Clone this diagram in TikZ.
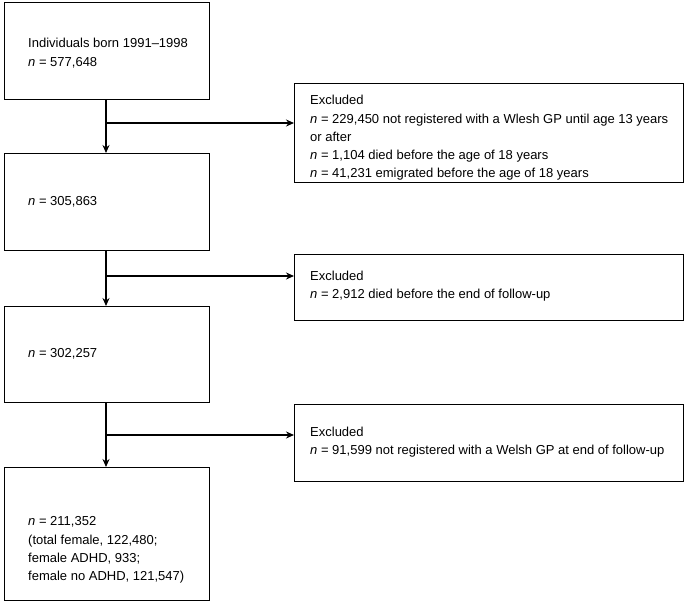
\documentclass[tikz,border=0pt]{standalone}
\usepackage{fontspec}
\setmainfont{Liberation Sans}
\usetikzlibrary{arrows.meta}
\begin{document}
\begin{tikzpicture}[x=1pt,y=-1pt,
  box/.style={draw,line width=1.3pt,anchor=north west,inner sep=0pt},
  txt/.style={anchor=west,inner sep=0pt,align=left,font=\fontsize{13}{18.3}\selectfont},
  arr/.style={line width=1.3pt,-{Stealth[length=8pt,width=7pt]}}]
\useasboundingbox (0,0) rectangle (685,613);
\node[box,minimum width=205,minimum height=97] (b1) at (4,2) {};
\node[box,minimum width=389,minimum height=99] (e1) at (294,83) {};
\node[box,minimum width=205,minimum height=97] (b2) at (4,153) {};
\node[box,minimum width=389,minimum height=66] (e2) at (294,254) {};
\node[box,minimum width=205,minimum height=96] (b3) at (4,306) {};
\node[box,minimum width=389,minimum height=77] (e3) at (294,404) {};
\node[box,minimum width=205,minimum height=133] (b4) at (4,467) {};
\node[txt] (t1) at (28,53) {Individuals born 1991–1998\\\textit{n} = 577,648};
\node[txt] (t2) at (310,138) {Excluded\\\textit{n} = 229,450 not registered with a Wlesh GP until age 13 years\\or after\\\textit{n} = 1,104 died before the age of 18 years\\\textit{n} = 41,231 emigrated before the age of 18 years};
\node[txt] (t3) at (28,202) {\textit{n} = 305,863};
\node[txt] (t4) at (310,286) {Excluded\\\textit{n} = 2,912 died before the end of follow-up};
\node[txt] (t5) at (28,354) {\textit{n} = 302,257};
\node[txt] (t6) at (310,442) {Excluded\\\textit{n} = 91,599 not registered with a Welsh GP at end of follow-up};
\node[txt] (t7) at (28,550) {\textit{n} = 211,352\\(total female, 122,480;\\female ADHD, 933;\\female no ADHD, 121,547)};
\coordinate (j1) at (106,123);
\coordinate (j2) at (106,276);
\coordinate (j3) at (106,435);
\draw[arr] (b1.south -| j1) -- (b2.north -| j1);
\draw[arr] (b2.south -| j1) -- (b3.north -| j1);
\draw[arr] (b3.south -| j1) -- (b4.north -| j1);
\draw[arr] (j1) -- (j1 -| e1.west);
\draw[arr] (j2) -- (j2 -| e2.west);
\draw[arr] (j3) -- (j3 -| e3.west);
\end{tikzpicture}
\end{document}
